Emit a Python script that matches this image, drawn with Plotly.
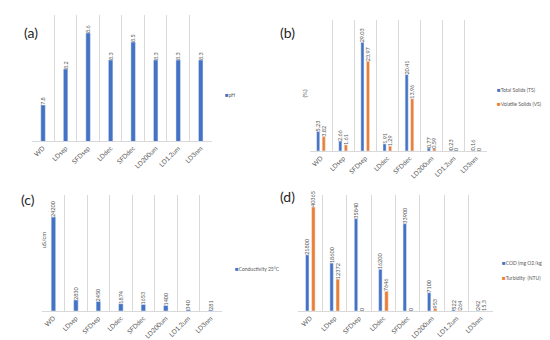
import plotly.graph_objects as go

categories = ["WD", "LDsep", "SFDsep", "LDdec", "SFDdec", "LD200um", "LD1.2um", "LD3nm"]
ph = [7.8, 8.2, 8.6, 8.3, 8.5, 8.3, 8.3, 8.3]
total_solids = [5.23, 2.66, 29.03, 1.91, 20.41, 0.77, 0.23, 0.16]
volatile_solids = [3.82, 1.61, 23.97, 1.29, 13.96, 0.59, 0, 0]
conductivity = [24200, 2830, 2450, 1874, 1653, 1400, 340, 281]
cod = [21800, 18600, 35840, 16200, 33900, 7100, 522, 242]
turbidity = [40365, 12372, 0, 7646, 0, 953, 264, 15.3]

BLUE = "#4472C4"
ORANGE = "#ED7D31"
GREY = "#595959"
GRID = "#D9D9D9"
FONT = "Lato"
W, H = 550, 340


def px(x):
    return x / W


def py(y):
    return 1 - y / H


def lab(v):
    return [f"{x:g}" for x in v]


fig = go.Figure()


def bar(vals, name, color, xa, ya, offset, width, clip=True):
    fig.add_trace(go.Bar(
        x=categories, y=vals, name=name, marker_color=color,
        xaxis=xa, yaxis=ya, offset=offset, width=width,
        text=lab(vals), textposition="outside", textangle=-90,
        textfont=dict(size=5.5, color=GREY, family=FONT),
        constraintext="none", cliponaxis=clip, showlegend=False,
    ))


bar(ph, "pH", BLUE, "x", "y", -0.1, 0.2, clip=True)
bar(total_solids, "Total Solids (TS)", BLUE, "x2", "y2", -0.2, 0.14, clip=False)
bar(volatile_solids, "Volatile Solids (VS)", ORANGE, "x2", "y2", 0.05, 0.14, clip=False)
bar(conductivity, "Conductivity 25°C", BLUE, "x3", "y3", -0.1, 0.2, clip=False)
bar(cod, "COD (mg O2/kg)", BLUE, "x4", "y4", -0.19, 0.14, clip=False)
bar(turbidity, "Turbidity  (NTU)", ORANGE, "x4", "y4", 0.06, 0.14, clip=False)

xdoms = [(23.8, 204), (302, 479), (34.2, 214), (290, 485)]
ydoms = [(133, 7), (143, 12), (303, 186.6), (303, 187.1)]
yranges = [[7.4, 8.8], [0, 35], [0, 30000], [0, 45000]]

layout = dict(
    width=W, height=H, margin=dict(l=0, r=0, t=0, b=0),
    paper_bgcolor="white", plot_bgcolor="white",
    font=dict(family=FONT, color=GREY, size=7),
    showlegend=False,
)
for i in range(4):
    s = "" if i == 0 else str(i + 1)
    layout["xaxis" + s] = dict(
        domain=[px(xdoms[i][0]), px(xdoms[i][1])], anchor="y" + s,
        type="category", categoryorder="array", categoryarray=categories,
        tickson="boundaries", showgrid=True, gridcolor=GRID, gridwidth=1,
        showline=True, linecolor=GRID, ticks="", tickangle=-45,
        tickfont=dict(size=6.5, color=GREY, family=FONT), zeroline=False,
    )
    layout["yaxis" + s] = dict(
        domain=[py(ydoms[i][0]), py(ydoms[i][1])], anchor="x" + s,
        range=yranges[i], showticklabels=False, showgrid=False,
        zeroline=False, showline=False, ticks="",
    )
fig.update_layout(**layout)

annotations = []
# panel letters
for txt, x, y in [("(a)", 14, 14), ("(b)", 280, 14), ("(c)", 11, 191), ("(d)", 279, 188)]:
    annotations.append(dict(text=txt, x=px(x), y=py(y), xref="paper", yref="paper",
                            showarrow=False, font=dict(size=14, color="#262626", family=FONT)))
# axis titles
annotations.append(dict(text="(%)", x=px(295.5), y=py(80), xref="paper", yref="paper",
                        showarrow=False, textangle=-90, font=dict(size=6, color=GREY, family=FONT)))
annotations.append(dict(text="uS/cm", x=px(29.5), y=py(243), xref="paper", yref="paper",
                        showarrow=False, textangle=-90, font=dict(size=6, color=GREY, family=FONT)))
# legends
legends = [
    ("pH", BLUE, 215, 86),
    ("Total Solids (TS)", BLUE, 487, 81),
    ("Volatile Solids (VS)", ORANGE, 487, 95),
    ("Conductivity 25°C", BLUE, 225, 260),
    ("COD (mg O2/kg)", BLUE, 492, 254),
    ("Turbidity  (NTU)", ORANGE, 492, 269),
]
for name, col, x, y in legends:
    annotations.append(dict(
        text=f"<span style='color:{col}; font-size:6px'>■</span>{name}", x=px(x), y=py(y),
        xref="paper", yref="paper", xanchor="left", yanchor="middle", showarrow=False,
        font=dict(size=5, color=GREY, family=FONT)))
fig.update_layout(annotations=annotations)

fig.write_html("out.html")
